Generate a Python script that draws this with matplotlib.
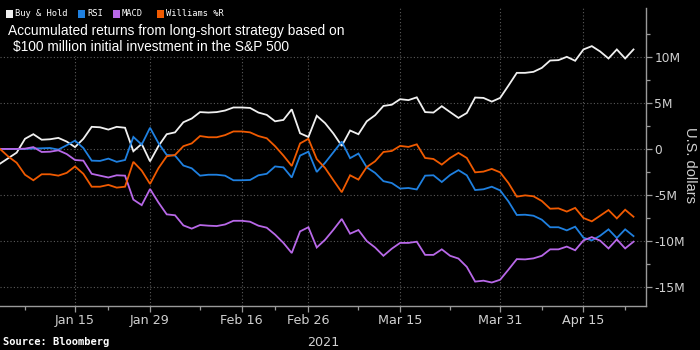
import matplotlib
matplotlib.use('Agg')
import matplotlib.pyplot as plt
import numpy as np
import pandas as pd
from matplotlib.ticker import FixedLocator, FuncFormatter

# Trading days (NYSE) Jan 4 - Apr 23, 2021
holidays = ['2021-01-18', '2021-02-15', '2021-04-02']
dates = [d for d in pd.bdate_range('2021-01-04', '2021-04-23')
         if d.strftime('%Y-%m-%d') not in holidays]

# Accumulated returns, millions of U.S. dollars
buy_hold = [-1.6, -1.0, -0.4, 1.1, 1.6, 1.0, 1.05, 1.2, 0.8, 0.2,
            1.1, 2.4, 2.35, 2.1, 2.4, 2.3, -0.25, 0.55, -1.35, 0.3,
            1.6, 1.8, 2.9, 3.3, 4.0, 3.95, 4.0, 4.17, 4.5, 4.5,
            4.45, 3.95, 3.7, 3.0, 3.15, 4.3, 1.7, 1.3, 3.6, 2.8,
            1.67, 0.33, 2.0, 1.6, 3.0, 3.66, 4.67, 4.8, 5.4, 5.3,
            5.6, 4.0, 3.95, 4.64, 4.0, 3.37, 3.9, 5.58, 5.54, 5.14,
            5.54, 6.88, 8.26, 8.26, 8.37, 8.8, 9.6, 9.64, 10.0, 9.57,
            10.8, 11.16, 10.58, 9.82, 10.8, 9.82, 10.8]
rsi = [0.0, 0.0, 0.0, 0.0, 0.04, 0.07, 0.1, -0.07, 0.4, 0.9,
       0.1, -1.27, -1.3, -1.05, -1.4, -1.2, 1.3, 0.47, 2.3, 0.65,
       -0.65, -0.72, -1.8, -2.1, -2.9, -2.8, -2.8, -2.9, -3.4, -3.4,
       -3.37, -2.86, -2.7, -1.9, -2.0, -3.1, -0.72, -0.3, -2.5, -1.5,
       -0.36, 0.8, -1.0, -0.5, -2.0, -2.6, -3.5, -3.7, -4.3, -4.24,
       -4.4, -2.9, -2.86, -3.59, -2.83, -2.3, -2.86, -4.46, -4.38, -4.1,
       -4.5, -5.7, -7.17, -7.14, -7.25, -7.68, -8.5, -8.5, -8.84, -8.44,
       -9.64, -9.93, -9.42, -8.73, -9.67, -8.73, -9.46]
macd = [0.0, 0.0, 0.0, 0.03, 0.2, -0.33, -0.3, -0.15, -0.55, -1.2,
        -1.27, -2.7, -2.9, -3.1, -2.86, -2.9, -5.5, -6.1, -4.35, -5.8,
        -7.1, -7.2, -8.3, -8.65, -8.26, -8.33, -8.37, -8.2, -7.8, -7.8,
        -7.9, -8.33, -8.55, -9.3, -10.2, -11.3, -8.95, -8.5, -10.7, -9.86,
        -8.77, -7.6, -9.2, -8.8, -10.0, -10.7, -11.6, -10.83, -10.2, -10.2,
        -10.07, -11.5, -11.5, -10.9, -11.6, -11.9, -12.8, -14.4, -14.3, -14.5,
        -14.2, -13.1, -11.96, -11.99, -11.88, -11.6, -10.9, -10.9, -10.6, -11.0,
        -9.93, -9.57, -9.96, -10.8, -9.82, -10.8, -10.07]
williams = [0.0, -0.83, -1.5, -2.8, -3.4, -2.75, -2.75, -2.9, -2.6, -1.9,
            -2.7, -4.1, -4.1, -3.9, -4.2, -4.1, -1.4, -2.35, -3.8, -2.1,
            -0.8, -0.65, 0.3, 0.6, 1.4, 1.27, 1.27, 1.5, 1.9, 1.9,
            1.8, 1.4, 1.16, 0.3, -0.72, -1.85, 0.6, 1.1, -1.1, -2.07,
            -3.4, -4.7, -2.86, -3.33, -1.96, -1.34, -0.33, -0.22, 0.33, 0.22,
            0.5, -0.98, -1.09, -1.7, -0.98, -0.43, -0.98, -2.54, -2.46, -2.17,
            -2.54, -3.7, -5.18, -5.04, -5.14, -5.65, -6.49, -6.45, -6.8, -6.4,
            -7.5, -7.86, -7.25, -6.63, -7.54, -6.6, -7.36]

series_names = ['Buy & Hold', 'RSI', 'MACD', 'Williams %R']
series_colors = ['#f0f0f0', '#1f80e0', '#b868e8', '#f05a00']

tick_dates = ['2021-01-15', '2021-01-29', '2021-02-16', '2021-02-26',
              '2021-03-15', '2021-03-31', '2021-04-15']
tick_labels = ['Jan 15', 'Jan 29', 'Feb 16', 'Feb 26', 'Mar 15', 'Mar 31', 'Apr 15']
minor_dates = ['2021-01-07', '2021-01-22', '2021-02-08', '2021-02-22',
               '2021-03-08', '2021-03-23', '2021-04-08', '2021-04-22']
y_major = [-15, -10, -5, 0, 5, 10]

date_str = [d.strftime('%Y-%m-%d') for d in dates]
xpos = np.arange(len(dates))
tick_pos = [date_str.index(d) for d in tick_dates]
minor_pos = [date_str.index(d) for d in minor_dates]

narrow = ['Liberation Sans Narrow', 'DejaVu Sans']
grid_c = '#5a5a5a'
axis_c = '#9a9a9a'
text_c = '#d0d0d0'

fig = plt.figure(figsize=(7, 3.5), dpi=100, facecolor='black')
ax = fig.add_axes([0.0, 1 - 306 / 350, 646 / 700, (306 - 8) / 350])
ax.set_facecolor('black')

for vals, c in zip([buy_hold, rsi, macd, williams], series_colors):
    ax.plot(xpos, vals, color=c, lw=1.3, solid_joinstyle='miter', zorder=3)

ax.set_xlim(0, 77.5)
ax.set_ylim(-17.05, 15.3)

ax.xaxis.set_major_locator(FixedLocator(tick_pos))
ax.xaxis.set_minor_locator(FixedLocator(minor_pos))
ax.set_xticklabels(tick_labels)
ax.yaxis.set_major_locator(FixedLocator(y_major))
ax.yaxis.set_minor_locator(FixedLocator([v + 2.5 for v in y_major]))
ax.yaxis.set_major_formatter(FuncFormatter(lambda v, p: '0' if v == 0 else f'{int(v)}M'))
ax.yaxis.tick_right()
ax.yaxis.set_label_position('right')

for s in ['top', 'left']:
    ax.spines[s].set_visible(False)
for s in ['right', 'bottom']:
    ax.spines[s].set_color(axis_c)
    ax.spines[s].set_linewidth(1.0)

ax.tick_params(axis='both', which='both', colors=axis_c, direction='out')
ax.tick_params(axis='both', which='major', length=4, width=0.9, labelsize=9.2,
               labelcolor=text_c, pad=2)
ax.tick_params(axis='y', which='major', labelsize=8.8)
ax.tick_params(axis='both', which='minor', length=3, width=0.9)
for lab in ax.get_xticklabels() + ax.get_yticklabels():
    lab.set_family(narrow)

ax.grid(True, which='major', color=grid_c, linestyle=(0, (1, 2)), linewidth=0.8)

ax.set_ylabel('U.S. dollars', color=text_c, fontsize=10.5, rotation=270,
              va='center', ha='center', family=['Liberation Sans', 'DejaVu Sans'])
ax.yaxis.set_label_coords(690 / 646, (306 - 165) / 298)

# year label under axis
ax.text(0.5, -(342.5 - 306) / 298, '2021', transform=ax.transAxes, ha='center', va='center',
        color=text_c, fontsize=9.2, family=narrow)

# header: legend and title (with black background)
fig.patches.append(matplotlib.patches.Rectangle((0, 1 - 56 / 350), 350 / 700, 56 / 350,
                                                transform=fig.transFigure,
                                                facecolor='black', edgecolor='none', zorder=2))
leg_x = [6, 78, 113, 157]
for name, c, lx in zip(series_names, series_colors, leg_x):
    fig.patches.append(matplotlib.patches.Rectangle((lx / 700, 1 - 17.5 / 350), 7 / 700, 7 / 350,
                                                    transform=fig.transFigure, facecolor=c,
                                                    edgecolor='none', zorder=4))
    fig.text((lx + 9) / 700, 1 - 14 / 350, name, color='white', fontsize=6.3,
             family=['DejaVu Sans Mono'], va='center', ha='left', zorder=5)

fig.text(8 / 700, 1 - 31 / 350, 'Accumulated returns from long-short strategy based on',
         color='white', fontsize=9.9, family=['Liberation Sans', 'DejaVu Sans'],
         va='center', ha='left', zorder=5)
fig.text(13 / 700, 1 - 47 / 350, '$100 million initial investment in the S&P 500',
         color='white', fontsize=9.9, family=['Liberation Sans', 'DejaVu Sans'],
         va='center', ha='left', zorder=5)

fig.text(3 / 700, 1 - 342 / 350, 'Source: Bloomberg', color='white', fontsize=7.5,
         fontweight='bold', family=['DejaVu Sans Mono'], va='center', ha='left')

fig.savefig('out.png', dpi=100, facecolor='black')
